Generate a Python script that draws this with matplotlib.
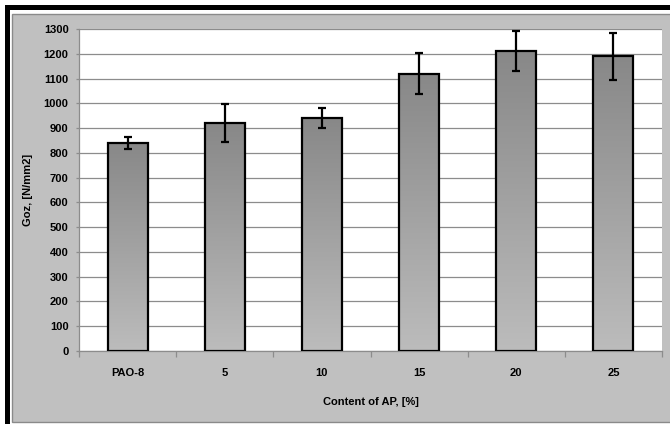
import numpy as np
import matplotlib
matplotlib.use("Agg")
import matplotlib.pyplot as plt
from matplotlib.patches import Rectangle

plt.rcParams['font.family'] = ['Liberation Sans', 'DejaVu Sans']

categories = ["PAO-8", "5", "10", "15", "20", "25"]
goz = [840, 920, 940, 1120, 1210, 1190]
goz_err = [25, 78, 40, 82, 80, 95]

W, H = 670, 424
fig = plt.figure(figsize=(W / 100, H / 100), dpi=100)
fig.patch.set_facecolor("white")


def px_rect(x0, y0, x1, y1, **kw):
    # rectangle given in pixel coords (top-left origin)
    r = Rectangle((x0 / W, 1 - y1 / H), (x1 - x0) / W, (y1 - y0) / H,
                  transform=fig.transFigure, **kw)
    fig.add_artist(r)
    return r


# black frame on top / left, then the grey chart area
px_rect(5, 5, W + 10, H + 10, facecolor="black", edgecolor="none", zorder=0)
px_rect(10, 10, W + 10, H + 10, facecolor="white", edgecolor="none", zorder=0)
px_rect(12.5, 13.5, W + 10, 422, facecolor="#c0c0c0", edgecolor="#8a8a8a",
        linewidth=1.0, zorder=0)

ax = fig.add_axes([79 / W, 1 - 351 / H, (662 - 79) / W, (351 - 29) / H])
ax.set_facecolor("white")

x = np.arange(len(categories))
bars = ax.bar(x, goz, width=0.41, color="none", edgecolor="black",
              linewidth=1.6, zorder=3)

# vertical gradient: darker top, lighter bottom
grad = np.linspace(0, 1, 256).reshape(-1, 1)
cmap = matplotlib.colors.LinearSegmentedColormap.from_list(
    "g", ["#bcbcbc", "#888888"])
for b in bars:
    x0, w, h = b.get_x(), b.get_width(), b.get_height()
    im = ax.imshow(grad, extent=[x0, x0 + w, 0, h], origin="lower",
                   aspect="auto", cmap=cmap, zorder=2)
    im.set_clip_path(b)

ax.errorbar(x, goz, yerr=goz_err, fmt="none", ecolor="black",
            elinewidth=1.6, capsize=3.2, capthick=1.6, zorder=4)

ax.set_xlim(-0.5, len(categories) - 0.5)
ax.set_ylim(0, 1300)
ax.set_yticks(np.arange(0, 1301, 100))
ax.yaxis.grid(True, color="#8c8c8c", linewidth=0.9, zorder=0)
ax.set_axisbelow(True)

ax.set_xticks(x)
ax.set_xticklabels(categories, fontsize=8, fontweight="bold")
ax.set_xticks(np.arange(-0.5, len(categories), 1), minor=True)
ax.tick_params(axis="x", which="major", length=0, pad=12)
ax.tick_params(axis="x", which="minor", length=4, color="#8c8c8c", width=0.9)
ax.tick_params(axis="y", length=2.5, color="#8c8c8c", width=0.9, pad=5,
               labelsize=8)
for t in ax.get_yticklabels():
    t.set_fontweight("bold")

for s in ["top", "right"]:
    ax.spines[s].set_visible(False)
ax.spines["left"].set_color("#8c8c8c")
ax.spines["bottom"].set_color("#8c8c8c")
ax.spines["left"].set_linewidth(0.9)
ax.spines["bottom"].set_linewidth(0.9)

ax.set_xlabel("Content of AP, [%]", fontsize=8, fontweight="bold", labelpad=14)
ax.set_ylabel("Goz, [N/mm2]", fontsize=8, fontweight="bold", labelpad=8)

fig.savefig("out.png", dpi=100)
